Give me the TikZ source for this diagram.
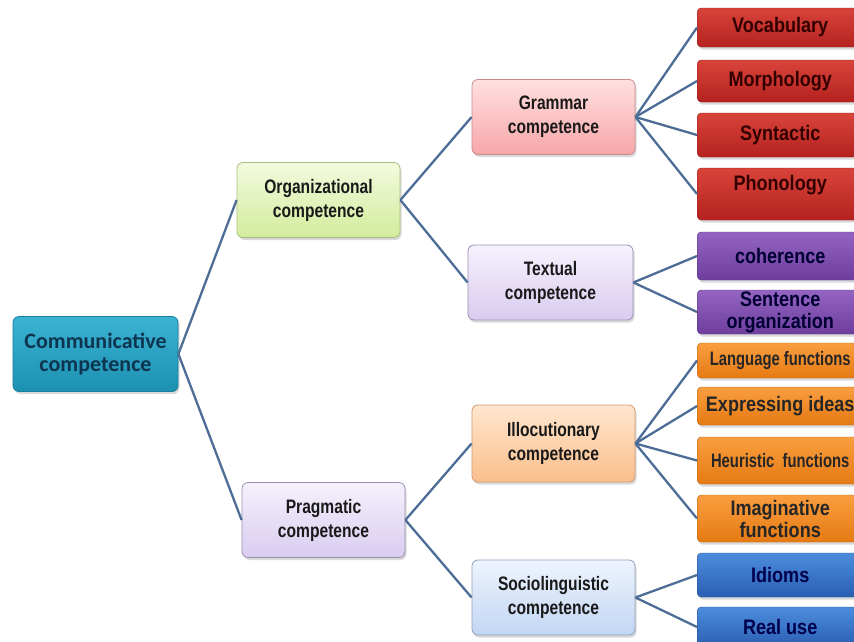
\documentclass[tikz,border=0pt]{standalone}
\usepackage{fontspec}
\setmainfont{Liberation Sans}
\newfontfamily\rootfont{Carlito}
\newfontfamily\condfont[FakeStretch=0.8]{Liberation Sans}
\newfontfamily\leaffont[FakeStretch=0.86]{Liberation Sans}
\newfontfamily\narrowfont[FakeStretch=0.76]{Liberation Sans}
\usetikzlibrary{shadows}
\definecolor{linkc}{HTML}{4D6D96}
\definecolor{rootT}{HTML}{3BB3D3}
\definecolor{rootB}{HTML}{1C90B0}
\definecolor{rootD}{HTML}{17809E}
\definecolor{rootX}{HTML}{0E3550}
\definecolor{grnT}{HTML}{F3FADF}
\definecolor{grnB}{HTML}{D3EC9C}
\definecolor{grnD}{HTML}{A8BE80}
\definecolor{pnkT}{HTML}{FFE0E0}
\definecolor{pnkB}{HTML}{F7A6A8}
\definecolor{pnkD}{HTML}{C98A8C}
\definecolor{lavT}{HTML}{F6F1FC}
\definecolor{lavB}{HTML}{D9CCF0}
\definecolor{lavD}{HTML}{9A90B0}
\definecolor{orgT}{HTML}{FEE6CE}
\definecolor{orgB}{HTML}{FBBE8C}
\definecolor{orgD}{HTML}{D09A70}
\definecolor{bluT}{HTML}{EEF4FD}
\definecolor{bluB}{HTML}{C2D6F3}
\definecolor{bluD}{HTML}{8FA0BC}
\definecolor{redT}{HTML}{D8443A}
\definecolor{redB}{HTML}{B5221F}
\definecolor{purT}{HTML}{9464C2}
\definecolor{purB}{HTML}{6E3E9E}
\definecolor{oraT}{HTML}{FA9E40}
\definecolor{oraB}{HTML}{E57A12}
\definecolor{lbT}{HTML}{4C8CDC}
\definecolor{lbB}{HTML}{2A5FB2}
\begin{document}
\begin{tikzpicture}[x=1pt,y=-1pt,
  link/.style={draw=linkc,line width=2.3pt},
  shadowed/.style={drop shadow={shadow xshift=1.5pt,shadow yshift=-2.5pt,opacity=0.3}},
  rootbox/.style={shadowed,draw=rootD,line width=0.8pt,rounded corners=6pt,
    top color=rootT,bottom color=rootB,minimum width=165pt,minimum height=75pt,
    align=center,text=rootX,font=\rootfont\bfseries\fontsize{22}{23}\selectfont},
  midbox/.style={shadowed,line width=0.8pt,rounded corners=6pt,
    minimum width=163pt,minimum height=75pt,inner sep=1pt,align=center,
    text=black!90,font=\condfont\bfseries\fontsize{19.5}{24}\selectfont},
  leafbox/.style={shadowed,rounded corners=4pt,anchor=west,
    minimum width=166pt,inner sep=1pt,align=center,
    font=\leaffont\bfseries\fontsize{21}{22}\selectfont},
  longleaf/.style={font=\narrowfont\bfseries\fontsize{19.5}{22}\selectfont},
  redleaf/.style={leafbox,draw=redB!80!black,top color=redT,bottom color=redB,text=black!80!red},
  purleaf/.style={leafbox,draw=purB!80!black,top color=purT,bottom color=purB,text=black!80!blue},
  oraleaf/.style={leafbox,draw=oraB!80!black,top color=oraT,bottom color=oraB,text=black!85},
  bluleaf/.style={leafbox,draw=lbB!80!black,top color=lbT,bottom color=lbB,text=black!70!blue}
]
\useasboundingbox (0,0) rectangle (854,641);
\clip (0,0) rectangle (854,641);

% root
\node[rootbox] (root) at (95.5,354) {Communicative\\competence};

% level 2
\node[midbox,draw=grnD,top color=grnT,bottom color=grnB] (org) at (318.5,200) {Organizational\\competence};
\node[midbox,draw=lavD,top color=lavT,bottom color=lavB] (prag) at (323.5,520) {Pragmatic\\competence};

% level 3
\node[midbox,draw=pnkD,top color=pnkT,bottom color=pnkB] (gram) at (553.5,117) {Grammar\\competence};
\node[midbox,draw=lavD,top color=lavT,bottom color=lavB,minimum width=165pt] (text) at (550.5,282.5) {Textual\\competence};
\node[midbox,draw=orgD,top color=orgT,bottom color=orgB,minimum height=77pt] (illo) at (553.5,443.5) {Illocutionary\\competence};
\node[midbox,draw=bluD,top color=bluT,bottom color=bluB] (soc) at (553.5,597.5) {Sociolinguistic\\competence};

% leaves
\node[redleaf,minimum height=39pt] (voc) at (697,27.5) {Vocabulary};
\node[redleaf,minimum height=42pt] (mor) at (697,81) {Morphology};
\node[redleaf,minimum height=44pt] (syn) at (697,135) {Syntactic};
\node[redleaf,minimum height=52pt,text height=15pt,text depth=23pt] (pho) at (697,194) {Phonology};
\node[purleaf,minimum height=48pt] (coh) at (697,256) {coherence};
\node[purleaf,minimum height=44pt] (sen) at (697,312) {Sentence\\organization};
\node[oraleaf,longleaf,minimum height=35pt] (lan) at (697,360.5) {Language functions};
\node[oraleaf,minimum height=38pt] (exp) at (697,406) {Expressing ideas};
\node[oraleaf,longleaf,minimum height=47pt] (heu) at (697,460.5) {Heuristic\ \ functions};
\node[oraleaf,minimum height=47pt] (ima) at (697,518.5) {Imaginative\\functions};
\node[bluleaf,minimum height=44pt] (idi) at (697,575) {Idioms};
\node[bluleaf,minimum height=40pt] (rea) at (697,627) {Real use};

% connectors
\draw[link] (root.east) -- (org.west);
\draw[link] (root.east) -- (prag.west);
\draw[link] (org.east) -- (gram.west);
\draw[link] (org.east) -- (text.west);
\draw[link] (prag.east) -- (illo.west);
\draw[link] (prag.east) -- (soc.west);
\foreach \n in {voc,mor,syn,pho} \draw[link] (gram.east) -- (\n.west);
\foreach \n in {coh,sen} \draw[link] (text.east) -- (\n.west);
\foreach \n in {lan,exp,heu,ima} \draw[link] (illo.east) -- (\n.west);
\foreach \n in {idi,rea} \draw[link] (soc.east) -- (\n.west);
\end{tikzpicture}
\end{document}
